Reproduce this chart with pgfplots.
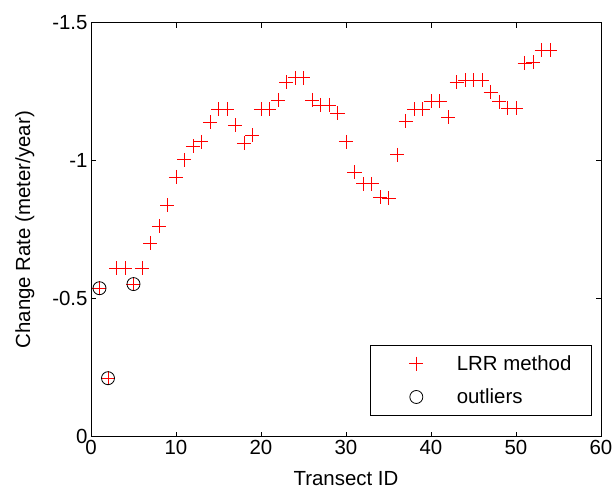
\documentclass[border=0pt]{standalone}
\usepackage{fontspec}
\setmainfont{Liberation Sans}
\usepackage{pgfplots}
\pgfplotsset{compat=1.18}
\definecolor{mred}{RGB}{255,0,0}
\begin{document}
\begin{tikzpicture}[font=\fontsize{20.5}{24}\selectfont]
\begin{axis}[
  at={(0bp,0bp)}, anchor=south west,
  scale only axis, width=510bp, height=414bp,
  xmin=0, xmax=60, ymin=-1.5, ymax=0, y dir=reverse,
  xtick={0,10,20,30,40,50,60},
  xticklabels={0,10,20,30,40,50,60},
  ytick={-1.5,-1,-0.5,0},
  yticklabels={-1.5,-1,-0.5,0},
  tick align=inside,
  major tick length=5bp,
  axis line style={line width=0.75bp},
  every tick/.style={black, line width=0.75bp},
  xlabel={Transect ID},
  xlabel style={yshift=-10bp},
  ylabel={Change Rate (meter/year)},
  ylabel style={yshift=11bp},
  legend cell align=left,
  legend image code/.code={\path (0bp,-1bp) (52bp,1bp);
    \draw[mark repeat=2,mark phase=2] plot coordinates {(0bp,0bp) (26bp,0bp) (52bp,0bp)};},
  legend style={at={(0.982,0.05)}, anchor=south east, draw=black, line width=0.75bp,
    inner xsep=20bp, inner ysep=10.5bp, row sep=17bp,
    nodes={inner sep=0pt},
    /tikz/every odd column/.append style={column sep=14bp}},
]
\addplot[only marks, mark=+, mark size=7bp, color=mred, draw=mred, line width=0.9bp,
  mark options={solid, draw=mred, line width=0.9bp}] coordinates {
(1,-0.538) (2,-0.212) (3,-0.611) (4,-0.611) (5,-0.553) (6,-0.611)
(7,-0.702) (8,-0.763) (9,-0.839) (10,-0.941) (11,-1.003) (12,-1.053)
(13,-1.068) (14,-1.140) (15,-1.187) (16,-1.187) (17,-1.129) (18,-1.064)
(19,-1.093) (20,-1.187) (21,-1.187) (22,-1.220) (23,-1.285) (24,-1.300)
(25,-1.300) (26,-1.220) (27,-1.202) (28,-1.202) (29,-1.173) (30,-1.068)
(31,-0.959) (32,-0.916) (33,-0.916) (34,-0.868) (35,-0.865) (36,-1.021)
(37,-1.144) (38,-1.187) (39,-1.187) (40,-1.216) (41,-1.216) (42,-1.158)
(43,-1.285) (44,-1.292) (45,-1.292) (46,-1.292) (47,-1.249) (48,-1.213)
(49,-1.191) (50,-1.191) (51,-1.354) (52,-1.357) (53,-1.401) (54,-1.401)
};
\addlegendentry{LRR method}
\addplot[only marks, mark=o, mark size=6.5bp, black, line width=0.8bp,
  mark options={solid, draw=black}] coordinates {
(1,-0.538) (2,-0.212) (5,-0.553)
};
\addlegendentry{outliers}
\end{axis}
\pgfresetboundingbox
\path[use as bounding box] (-91bp,-54.3bp) rectangle (524bp,436.7bp);
\end{tikzpicture}
\end{document}
